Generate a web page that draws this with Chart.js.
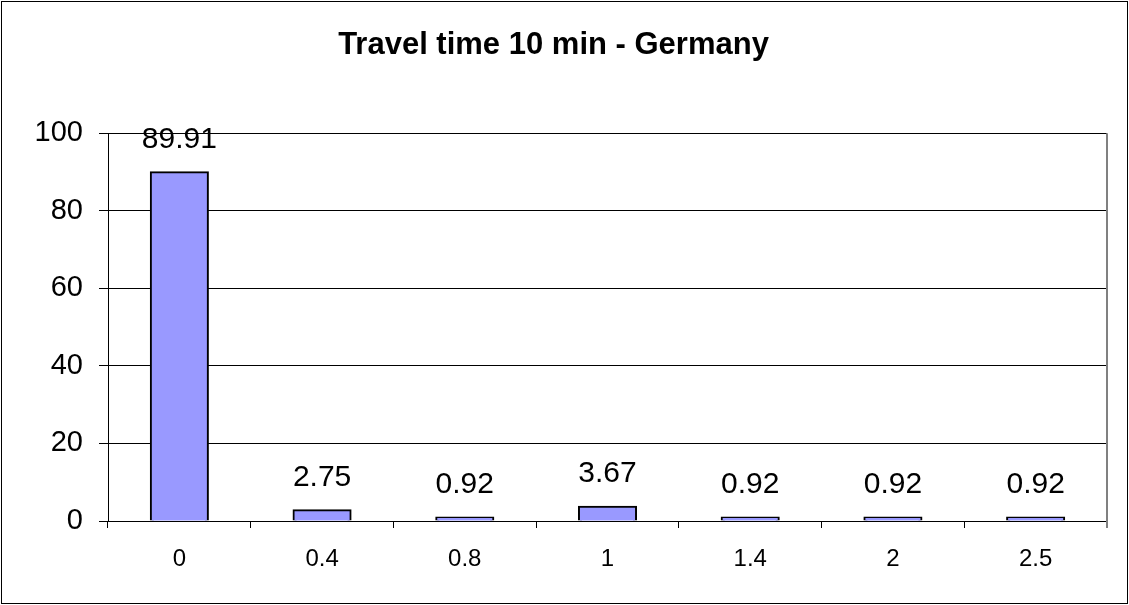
<!DOCTYPE html>
<html>
<head>
<meta charset="utf-8">
<script src="https://cdn.jsdelivr.net/npm/chart.js@4.4.0/dist/chart.umd.min.js"></script>
<style>
  html, body { margin: 0; padding: 0; background: #fff; }
  canvas { display: block; }
</style>
</head>
<body>
<canvas id="c" width="1129" height="605"></canvas>
<script>
const chartTitle = 'Travel time 10 min - Germany';
const categories = ['0', '0.4', '0.8', '1', '1.4', '2', '2.5'];
const values = [89.91, 2.75, 0.92, 3.67, 0.92, 0.92, 0.92];
const valueLabels = ['89.91', '2.75', '0.92', '3.67', '0.92', '0.92', '0.92'];
const yMin = 0, yMax = 100, yStep = 20;

const FONT = "'Liberation Sans', Arial, sans-serif";

const dataLabels = {
  id: 'dataLabels',
  afterDatasetsDraw(chart) {
    const ctx = chart.ctx;
    const meta = chart.getDatasetMeta(0);
    ctx.save();
    ctx.font = '30px ' + FONT;
    ctx.fillStyle = '#000';
    ctx.textAlign = 'center';
    ctx.textBaseline = 'middle';
    meta.data.forEach((el, i) => {
      ctx.fillText(valueLabels[i], el.x, el.y - 33);
    });
    ctx.restore();
  }
};

const frame = {
  id: 'frame',
  afterDraw(chart) {
    const ctx = chart.ctx;
    const a = chart.chartArea;
    ctx.save();
    ctx.strokeStyle = '#808080';
    ctx.lineWidth = 2;
    ctx.beginPath();
    ctx.moveTo(a.right, a.top);
    ctx.lineTo(a.right, a.bottom + 7);
    ctx.stroke();
    ctx.strokeStyle = '#000';
    ctx.lineWidth = 1;
    ctx.strokeRect(1.5, 1.5, chart.width - 3, chart.height - 3);
    ctx.restore();
  }
};

new Chart(document.getElementById('c'), {
  type: 'bar',
  data: {
    labels: categories,
    datasets: [{
      data: values,
      backgroundColor: '#9999FF',
      borderColor: '#000',
      borderWidth: 2,
      inflateAmount: 1,
      barPercentage: 0.4,
      categoryPercentage: 1
    }]
  },
  options: {
    responsive: false,
    devicePixelRatio: 1,
    animation: false,
    layout: { padding: { left: 0, right: 22, top: 0, bottom: 0 } },
    plugins: {
      legend: { display: false },
      tooltip: { enabled: false },
      title: {
        display: true,
        text: chartTitle,
        color: '#000',
        font: { family: FONT, size: 31, weight: 'bold' },
        padding: { top: 27, bottom: 69 }
      }
    },
    scales: {
      x: {
        afterFit(scale) { scale.height = 84; },
        grid: {
          offset: true,
          drawOnChartArea: false,
          drawTicks: true,
          tickLength: 7,
          color: '#000',
          lineWidth: 1
        },
        border: { display: true, color: '#000', width: 1 },
        ticks: {
          color: '#000',
          font: { family: FONT, size: 24 },
          padding: 17,
          maxRotation: 0
        }
      },
      y: {
        min: yMin,
        max: yMax,
        afterFit(scale) { scale.width = 108; },
        grid: {
          color: '#000',
          lineWidth: 1,
          drawTicks: true,
          tickLength: 9
        },
        border: { display: true, color: '#000', width: 1 },
        ticks: {
          stepSize: yStep,
          color: '#000',
          font: { family: FONT, size: 29 },
          padding: 16
        }
      }
    }
  },
  plugins: [dataLabels, frame]
});
</script>
</body>
</html>
